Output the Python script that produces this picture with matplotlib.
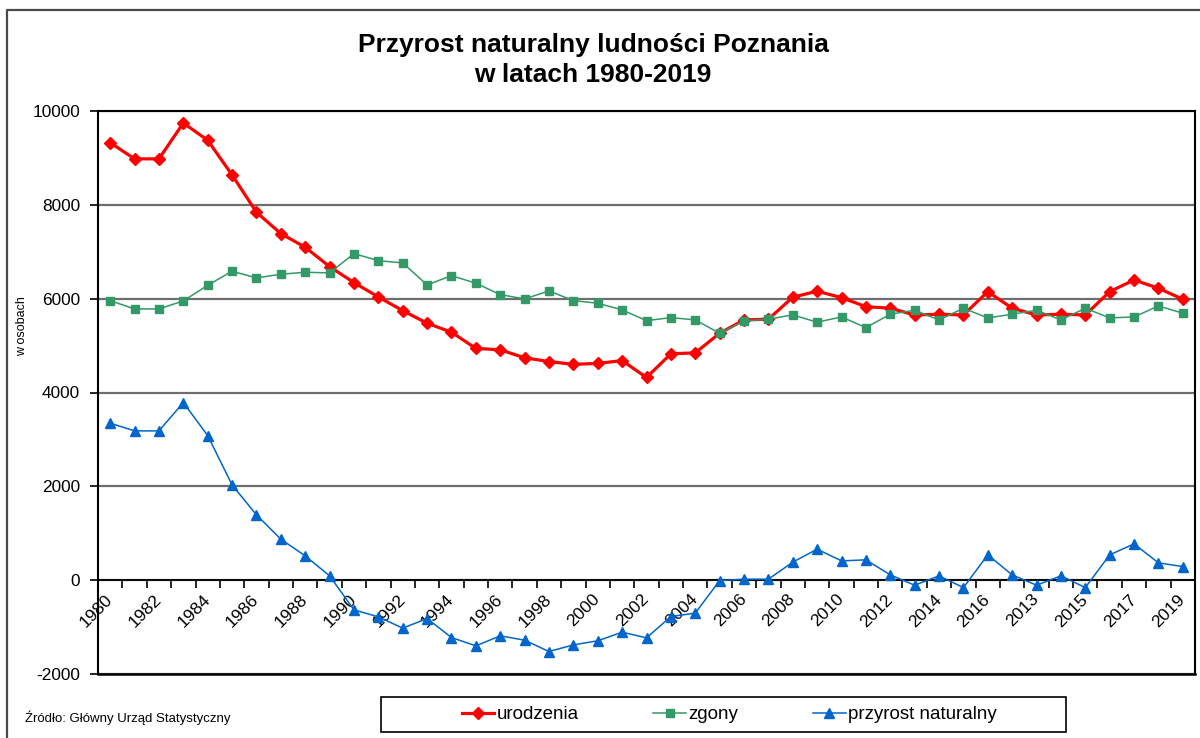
import numpy as np
import matplotlib
matplotlib.use("Agg")
import matplotlib.pyplot as plt
from matplotlib.lines import Line2D
from matplotlib.patches import Rectangle

plt.rcParams['font.family'] = ['Liberation Sans', 'DejaVu Sans']

categories = ['1980', '1981', '1982', '1983', '1984', '1985', '1986', '1987', '1988', '1989',
              '1990', '1991', '1992', '1993', '1994', '1995', '1996', '1997', '1998', '1999',
              '2000', '2001', '2002', '2003', '2004', '2005', '2006', '2007', '2008', '2009',
              '2010', '2011', '2012', '2013', '2014', '2015', '2016',
              '2012', '2013', '2014', '2015', '2016', '2017', '2018', '2019']

urodzenia = [9325, 8980, 8980, 9745, 9376, 8637, 7842, 7386, 7096, 6683,
             6342, 6037, 5745, 5477, 5285, 4940, 4910, 4740, 4660, 4600,
             4620, 4680, 4320, 4825, 4845, 5263, 5547, 5562, 6031, 6159,
             6022, 5830, 5796, 5653, 5668, 5653, 6150,
             5796, 5653, 5668, 5653, 6150, 6399, 6222, 5988]

zgony = [5958, 5781, 5781, 5952, 6286, 6585, 6442, 6521, 6563, 6549,
         6960, 6811, 6762, 6293, 6491, 6329, 6086, 5995, 6165, 5958,
         5903, 5760, 5532, 5596, 5547, 5263, 5526, 5562, 5653, 5498,
         5611, 5383, 5668, 5754, 5547, 5796, 5590,
         5668, 5754, 5547, 5796, 5590, 5611, 5845, 5690]

przyrost = [3346, 3182, 3182, 3785, 3082, 2031, 1392, 874, 518, 92,
            -633, -782, -1023, -818, -1223, -1400, -1187, -1279, -1521, -1379,
            -1293, -1108, -1230, -775, -703, -8, 21, 21, 384, 661,
            411, 433, 113, -107, 92, -158, 539,
            113, -107, 92, -158, 539, 774, 369, 290]

series_names = ['urodzenia', 'zgony', 'przyrost naturalny']
title_lines = ['Przyrost naturalny ludności Poznania', 'w latach 1980-2019']
ylabel = 'w osobach'
source = 'Źródło: Główny Urząd Statystyczny'
yticks = [-2000, 0, 2000, 4000, 6000, 8000, 10000]

W, H = 1200, 738
fig = plt.figure(figsize=(W / 100, H / 100), dpi=100)

# outer chart border (left & top visible)
fig.add_artist(Line2D([7 / W, 7 / W, 1.0], [0.0, 1 - 10 / H, 1 - 10 / H],
                      transform=fig.transFigure, color='#4a4a4a', lw=1.6))

ax = fig.add_axes([98 / W, 1 - 674 / H, (1195 - 98) / W, (674 - 111) / H])

x = np.arange(len(categories))
ax.plot(x, urodzenia, color='#FF0000', lw=2.3, marker='D', ms=6.3,
        label=series_names[0], zorder=3)
ax.plot(x, zgony, color='#339966', lw=1.1, marker='s', ms=6.2,
        label=series_names[1], zorder=4)
ax.plot(x, przyrost, color='#0066CC', lw=1.1, marker='^', ms=7.2,
        label=series_names[2], zorder=5)

ax.set_xlim(-0.5, len(categories) - 0.5)
ax.set_ylim(yticks[0], yticks[-1])
ax.set_yticks(yticks)
ax.set_yticklabels([str(v) for v in yticks])
ax.yaxis.grid(True, color='#6e6e6e', lw=1.6)
ax.set_axisbelow(True)

for s in ['left', 'top', 'right']:
    ax.spines[s].set_color('black')
    ax.spines[s].set_linewidth(1.5)
ax.spines['bottom'].set_position(('data', 0))
ax.spines['bottom'].set_color('black')
ax.spines['bottom'].set_linewidth(1.3)
ax.spines['bottom'].set_zorder(2.5)
ax.axhline(yticks[0], color='black', lw=1.8, clip_on=False, zorder=2.5)

ax.set_xticks(x[::2])
ax.set_xticklabels(categories[::2])
ax.set_xticks(np.arange(-0.5, len(categories), 1.0), minor=True)
ax.tick_params(axis='x', which='major', length=0, pad=12, labelsize=12.6)
ax.tick_params(axis='x', which='minor', length=6, width=1.2, direction='out')
plt.setp(ax.get_xticklabels(), rotation=45, ha='right', va='center',
         rotation_mode='anchor')
ax.tick_params(axis='y', length=6, width=1.2, direction='out', pad=7, labelsize=12.4)

ax.set_ylabel(ylabel, fontsize=9)
ax.yaxis.set_label_coords(-0.064, (674 - 326) / (674 - 111))

fig.text(593 / W, 1 - 45 / H, title_lines[0], ha='center', va='center',
         fontsize=19, fontweight='bold')
fig.text(593 / W, 1 - 75 / H, title_lines[1], ha='center', va='center',
         fontsize=19, fontweight='bold')

fig.text(25 / W, 1 - 718 / H, source, ha='left', va='center', fontsize=9.5)

# legend box
fig.add_artist(Rectangle((381 / W, 1 - 732 / H), (1066 - 381) / W, 35 / H,
                         transform=fig.transFigure, fill=False,
                         edgecolor='black', lw=1.2))
handles, labels = ax.get_legend_handles_labels()
fig.legend(handles, labels, loc='center', bbox_to_anchor=(729 / W, 1 - 714.5 / H),
           ncol=3, frameon=False, fontsize=13.5, handlelength=1.75,
           handletextpad=0.1, columnspacing=4.0, numpoints=1,
           borderpad=0.2)

fig.savefig('out.png', dpi=100)
